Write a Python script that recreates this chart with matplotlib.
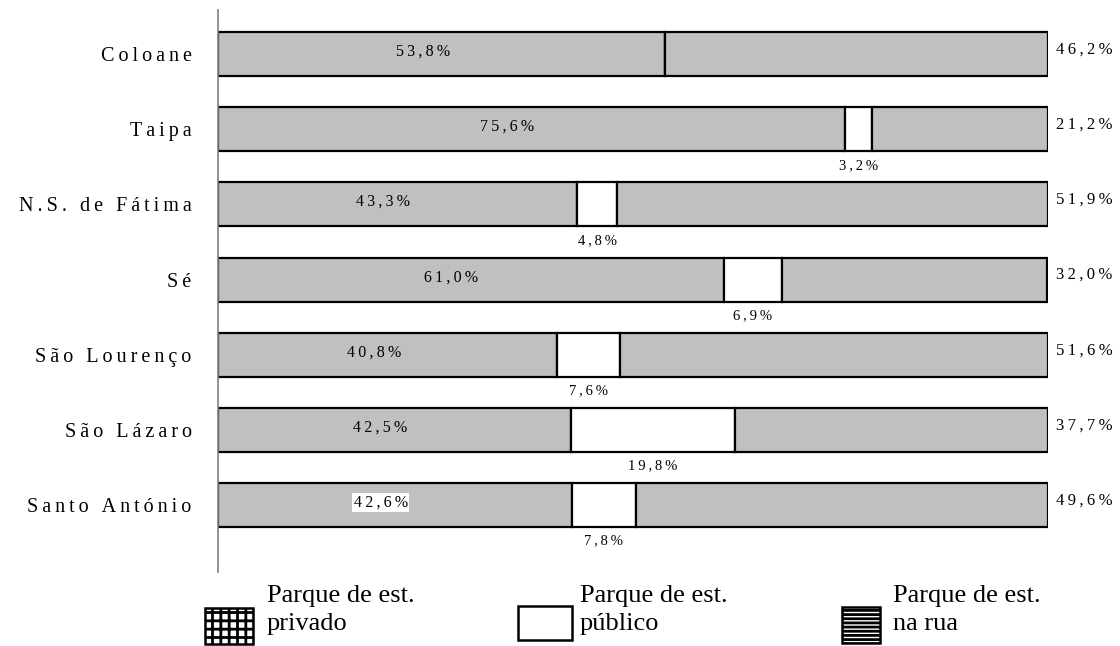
import numpy as np
import matplotlib.pyplot as plt
from matplotlib.patches import Rectangle

plt.rcParams['font.family'] = ['Liberation Serif', 'DejaVu Serif']
plt.rcParams['hatch.linewidth'] = 2.0

# dados
zonas = ["Coloane", "Taipa", "N.S. de Fátima", "Sé", "São Lourenço", "São Lázaro", "Santo António"]
privado = [53.8, 75.6, 43.3, 61.0, 40.8, 42.5, 42.6]
publico = [0.0, 3.2, 4.8, 6.9, 7.6, 19.8, 7.8]
rua = [46.2, 21.2, 51.9, 32.0, 51.6, 37.7, 49.6]
legenda = ["Parque de est.\nprivado", "Parque de est.\npúblico", "Parque de est.\nna rua"]

CINZA = "#c0c0c0"
TS = "\u2009"  # espaco fino entre letras


def espacar(s):
    return TS.join(s)


def pct(v):
    return espacar("{0:.1f}%".format(v).replace(".", ","))


fig = plt.figure(figsize=(11.2, 6.46), dpi=100)
ax = fig.add_axes([218/1120, 1-572/646, (1048-218)/1120, (572-10)/646])

y = np.arange(len(zonas))
h = 0.585
priv = np.array(privado)
pub = np.array(publico)
ru = np.array(rua)

ax.barh(y, priv, height=h, color=CINZA, edgecolor="black", linewidth=1.6)
ax.barh(y, pub, left=priv, height=h, color="white", edgecolor="black", linewidth=1.6)
ax.barh(y, ru, left=priv+pub, height=h, color=CINZA, edgecolor="black", linewidth=1.6)

for i in range(len(zonas)):
    bb = None
    if i == len(zonas)-1:
        bb = dict(facecolor="white", edgecolor="none", pad=1)
    ax.text(priv[i]*0.46, y[i]-0.03, pct(priv[i]), fontsize=11.5, ha="center", va="center", bbox=bb)
    ax.text(101.0, y[i]-0.06, pct(ru[i]), fontsize=12, ha="left", va="center", clip_on=False)
    if pub[i] > 0:
        ax.text(priv[i]+pub[i]/2, y[i]+0.48, pct(pub[i]), fontsize=10.5, ha="center", va="center")

ax.set_xlim(0, 100)
ax.set_ylim(6.89, -0.585)
ax.set_yticks(y)
ax.set_yticklabels([espacar(z) for z in zonas], fontsize=14.5)
ax.tick_params(axis="y", length=0, pad=19)
ax.set_xticks([])
for s in ["top", "right", "bottom"]:
    ax.spines[s].set_visible(False)
ax.spines["left"].set_color("#808080")
ax.spines["left"].set_linewidth(1.2)

# legenda
caixas = [(205, 608, 48, 36, "++"), (518, 606, 54, 34, None), (842, 607, 38, 36, "----")]
textos_x = [267, 580, 893]
for (x0, y0, w, hh, hatch), tx, lab in zip(caixas, textos_x, legenda):
    r = Rectangle((x0/1120, 1-(y0+hh)/646), w/1120, hh/646, transform=fig.transFigure,
                  facecolor="white", edgecolor="black", linewidth=1.8, hatch=hatch)
    fig.add_artist(r)
    fig.text(tx/1120, 1-585/646, lab, fontsize=19, ha="left", va="top", linespacing=1.35)

fig.savefig("out.png")
